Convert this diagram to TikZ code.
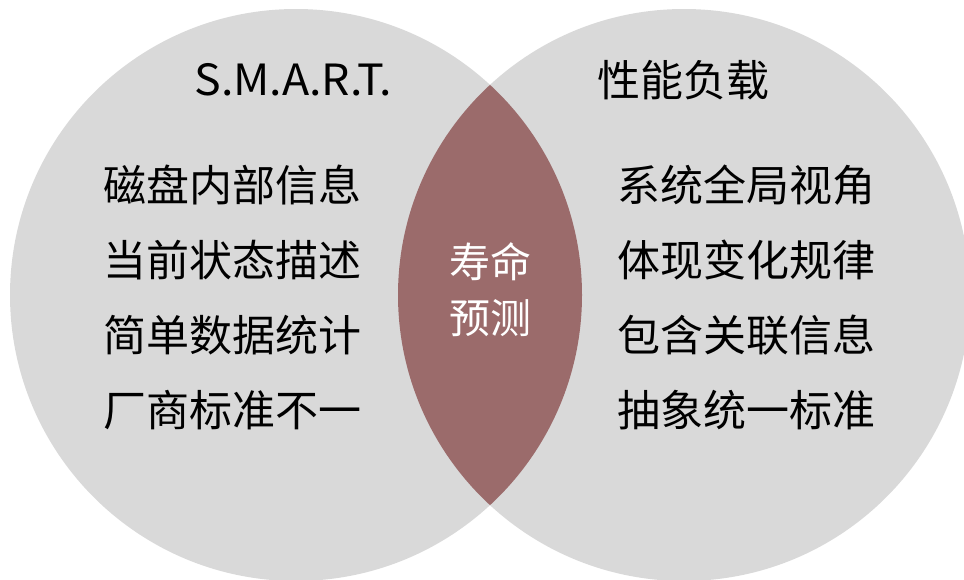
\documentclass[tikz,border=0pt]{standalone}
\usepackage{fontspec}
\setmainfont{Noto Sans CJK SC}
\definecolor{circgray}{RGB}{217,217,217}
\definecolor{lensred}{RGB}{155,107,107}
\begin{document}
\begin{tikzpicture}[x=1pt,y=-1pt,
  lbl/.style={font=\fontsize{43}{50}\selectfont, inner sep=0pt, text=black},
  lenslbl/.style={font=\fontsize{41}{56}\selectfont, inner sep=0pt, text=white, align=center}]
\useasboundingbox (0,0) rectangle (964,579);
\coordinate (cl) at (296,295);
\coordinate (cr) at (684,295);
\fill[circgray] (cl) circle[radius=286];
\fill[circgray] (cr) circle[radius=286];
\begin{scope}
  \clip (cl) circle[radius=286];
  \fill[lensred] (cr) circle[radius=286];
\end{scope}
\node[lbl, xscale=1.04] (smart) at (293,80) {S.M.A.R.T.};
\node[lbl] (perf) at (683,80) {性能负载};
\node[lbl] (l1) at (232,185) {磁盘内部信息};
\node[lbl] (l2) at (232,260) {当前状态描述};
\node[lbl] (l3) at (232,335) {简单数据统计};
\node[lbl] (l4) at (232,410) {厂商标准不一};
\node[lbl] (r1) at (746,185) {系统全局视角};
\node[lbl] (r2) at (746,260) {体现变化规律};
\node[lbl] (r3) at (746,335) {包含关联信息};
\node[lbl] (r4) at (746,410) {抽象统一标准};
\node[lenslbl] (life) at (490,290) {寿命\\预测};
\end{tikzpicture}
\end{document}
